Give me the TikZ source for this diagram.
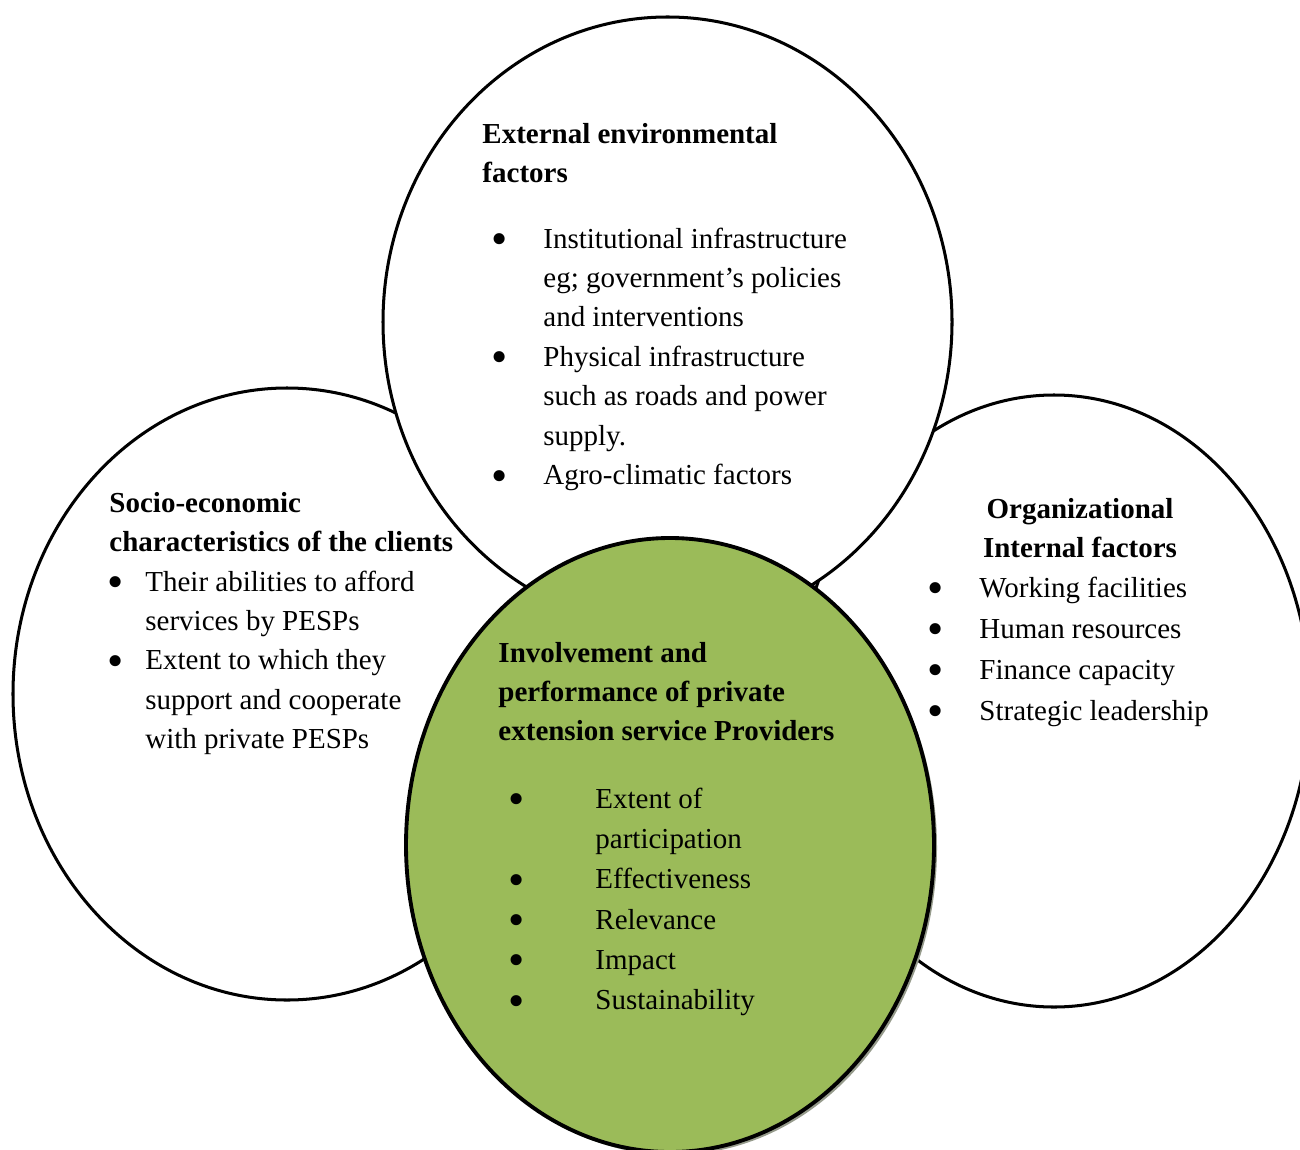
\documentclass[tikz,border=0pt]{standalone}
\usepackage{fontspec}
\usepackage{graphicx}
\setmainfont{Liberation Serif}
\definecolor{olivegreen}{HTML}{9BBB59}
\definecolor{shadowgray}{RGB}{150,155,140}
\newcommand{\bul}[1]{\makebox[#1][l]{\smash{\raisebox{-0.22em}{\scalebox{1.6}{\textbullet}}}}}

\begin{document}
\begin{tikzpicture}[x=0.414pt,y=-0.414pt,
    ring/.style={draw=black,line width=1.25pt,fill=white},
    core/.style={draw=black,line width=1.6pt,fill=olivegreen},
    head/.style={inner sep=0pt,font=\fontsize{12}{16.2}\selectfont\bfseries},
    list/.style={inner sep=0pt,anchor=base west,font=\fontsize{12}{16.35}\selectfont}]
\useasboundingbox (0,0) rectangle (1300,1149);
% outer ellipses
\filldraw[ring](287,694) ellipse[x radius=274,y radius=306];
\filldraw[ring](1054,701) ellipse[x radius=256,y radius=306];
\filldraw[ring](667.5,322) ellipse[x radius=284.5,y radius=305];
% centre ellipse and its shadow
\fill[shadowgray](673,848) ellipse[x radius=264,y radius=307];
\filldraw[core](670,845) ellipse[x radius=264,y radius=307];

% top
\node[head,anchor=base west] (envhead) at (482,143)
  {\begin{tabular}[t]{@{}l@{}}External environmental\\factors\end{tabular}};
\node[list] (envlist) at (491,248) {\begin{tabular}[t]{@{}l@{}l@{}}
  \bul{21.5pt}&Institutional infrastructure\\
  &eg; government’s policies\\
  &and interventions\\
  \bul{21.5pt}&Physical infrastructure\\
  &such as roads and power\\
  &supply.\\
  \bul{21.5pt}&Agro-climatic factors
  \end{tabular}};

% left
\node[head,anchor=base west] (sochead) at (109,512)
  {\begin{tabular}[t]{@{}l@{}}Socio-economic\\characteristics of the clients\end{tabular}};
\node[list] (soclist) at (107,591) {\begin{tabular}[t]{@{}l@{}l@{}}
  \bul{15.7pt}&Their abilities to afford\\
  &services by PESPs\\
  \bul{15.7pt}&Extent to which they\\
  &support and cooperate\\
  &with private PESPs
  \end{tabular}};

% right
\node[head,anchor=base] (orghead) at (1080,518)
  {\begin{tabular}[t]{@{}c@{}}Organizational\\Internal factors\end{tabular}};
\node[list,font=\fontsize{12}{17}\selectfont] (orglist) at (927,597) {\begin{tabular}[t]{@{}l@{}l@{}}
  \bul{21.5pt}&Working facilities\\
  \bul{21.5pt}&Human resources\\
  \bul{21.5pt}&Finance capacity\\
  \bul{21.5pt}&Strategic leadership
  \end{tabular}};

% centre
\node[head,font=\fontsize{12}{16.35}\selectfont\bfseries,anchor=base west] (pesphead) at (498,662)
  {\begin{tabular}[t]{@{}l@{}}Involvement and\\performance of private\\extension service Providers\end{tabular}};
\node[list,font=\fontsize{12}{16.7}\selectfont] (pesplist) at (508,808) {\begin{tabular}[t]{@{}l@{}l@{}}
  \bul{36pt}&Extent of\\
  &participation\\
  \bul{36pt}&Effectiveness\\
  \bul{36pt}&Relevance\\
  \bul{36pt}&Impact\\
  \bul{36pt}&Sustainability
  \end{tabular}};
\end{tikzpicture}
\end{document}
